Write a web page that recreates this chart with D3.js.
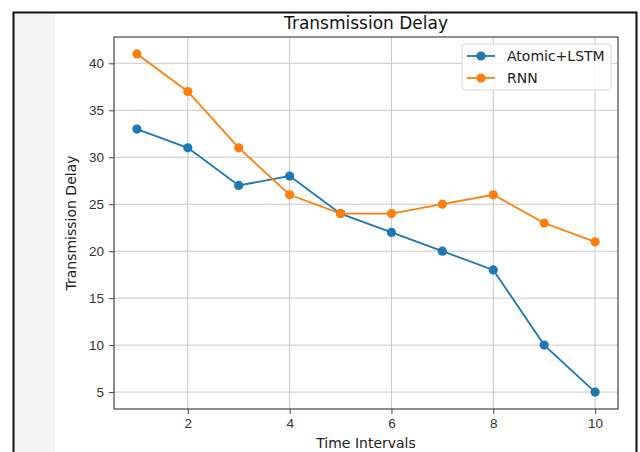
<!DOCTYPE html>
<html>
<head>
<meta charset="utf-8">
<script src="https://cdn.jsdelivr.net/npm/d3@7"></script>
<style>
body{margin:0;background:#fff;}
svg{display:block;font-family:"DejaVu Sans",sans-serif;}
</style>
</head>
<body>
<svg id="chart" width="640" height="452"></svg>
<script>
let intervals=[1,2,3,4,5,6,7,8,9,10];
let atomicLstm=[33,31,27,28,24,22,20,18,10,5];
let rnn=[41,37,31,26,24,24,25,26,23,21];
let xTicks=[2,4,6,8,10];
let yTicks=[5,10,15,20,25,30,35,40];
let seriesNames=["Atomic+LSTM","RNN"];
let seriesColors=["#1f77b4","#ff7f0e"];

let svg=d3.select("#chart");

// frame of the screenshot
svg.append("rect").attr("x",14).attr("y",13).attr("width",41).attr("height",445).attr("fill","#f4f4f4");
svg.append("rect").attr("x",13.5).attr("y",12.5).attr("width",623).attr("height",450).attr("fill","none").attr("stroke","#111").attr("stroke-width",2);

let L=114,R=618,T=37,B=409;
let x=d3.scaleLinear().domain([0.55,10.45]).range([L,R]);
let y=d3.scaleLinear().domain([3.2,42.8]).range([B,T]);

// grid
svg.append("g").selectAll("line").data(xTicks).enter().append("line")
  .attr("x1",d=>x(d)).attr("x2",d=>x(d)).attr("y1",T).attr("y2",B)
  .attr("stroke","#c8c8c8").attr("stroke-width",1);
svg.append("g").selectAll("line").data(yTicks).enter().append("line")
  .attr("x1",L).attr("x2",R).attr("y1",d=>y(d)).attr("y2",d=>y(d))
  .attr("stroke","#c8c8c8").attr("stroke-width",1);

// axes
let xAxis=svg.append("g").attr("transform",`translate(0,${B})`)
  .call(d3.axisBottom(x).tickValues(xTicks).tickSize(5).tickPadding(4));
let yAxis=svg.append("g").attr("transform",`translate(${L},0)`)
  .call(d3.axisLeft(y).tickValues(yTicks).tickSize(5).tickPadding(5));
[xAxis,yAxis].forEach(a=>{
  a.select(".domain").remove();
  a.selectAll("text").style("font-size","13.5px").attr("fill","#333");
  a.selectAll("line").attr("stroke","#444");
});
svg.append("rect").attr("x",L).attr("y",T).attr("width",R-L).attr("height",B-T)
  .attr("fill","none").attr("stroke","#444").attr("stroke-width",1.2);

// lines
let lineGen=d3.line().x((d,i)=>x(intervals[i])).y(d=>y(d));
[atomicLstm,rnn].forEach((s,k)=>{
  svg.append("path").datum(s).attr("d",lineGen).attr("fill","none")
    .attr("stroke",seriesColors[k]).attr("stroke-width",1.8);
  svg.append("g").selectAll("circle").data(s).enter().append("circle")
    .attr("cx",(d,i)=>x(intervals[i])).attr("cy",d=>y(d)).attr("r",4.6)
    .attr("fill",seriesColors[k]);
});

// title and labels
svg.append("text").text("Transmission Delay").attr("x",(L+R)/2).attr("y",29)
  .attr("text-anchor","middle").style("font-size","17px").attr("fill","#111");
svg.append("text").text("Time Intervals").attr("x",(L+R)/2).attr("y",448)
  .attr("text-anchor","middle").style("font-size","14px").attr("fill","#222");
svg.append("text").text("Transmission Delay").attr("transform",`translate(76,${(T+B)/2}) rotate(-90)`)
  .attr("text-anchor","middle").style("font-size","14px").attr("fill","#222");

// legend
let lg=svg.append("g");
lg.append("rect").attr("x",462).attr("y",44).attr("width",149).attr("height",46).attr("rx",3)
  .attr("fill","#fff").attr("fill-opacity",0.85).attr("stroke","#d5d5d5");
seriesNames.forEach((n,k)=>{
  let yy=56+k*22;
  lg.append("line").attr("x1",467).attr("x2",495).attr("y1",yy).attr("y2",yy)
    .attr("stroke",seriesColors[k]).attr("stroke-width",1.8);
  lg.append("circle").attr("cx",481).attr("cy",yy).attr("r",4.6).attr("fill",seriesColors[k]);
  lg.append("text").text(n).attr("x",507).attr("y",yy+5).style("font-size","14px").attr("fill","#222");
});
</script>
</body>
</html>
